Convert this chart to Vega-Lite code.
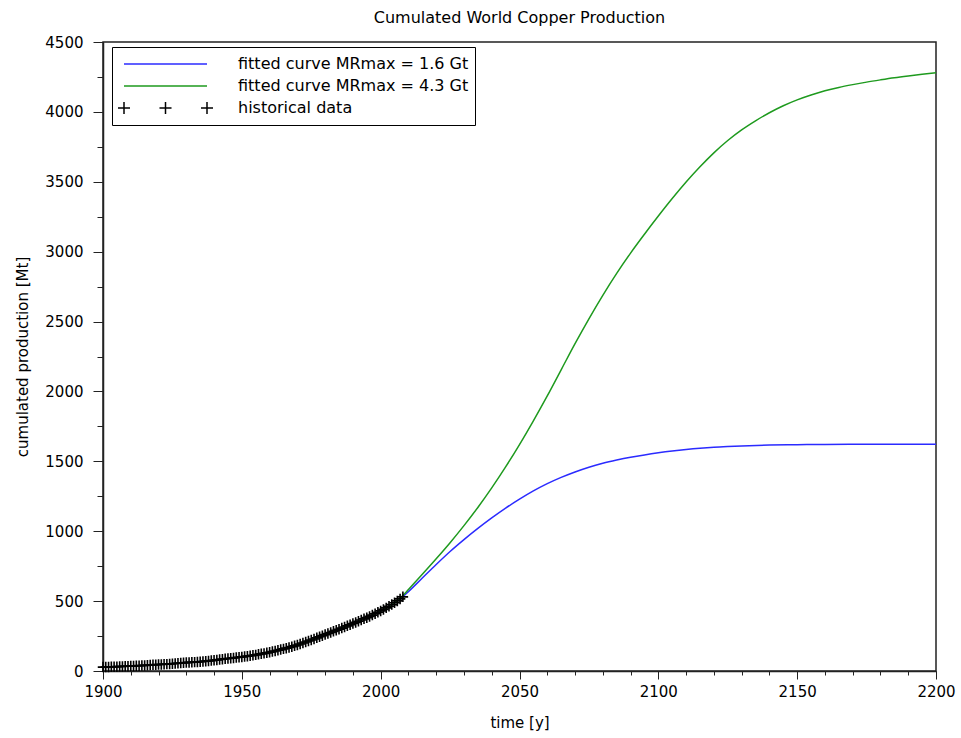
{
  "$schema": "https://vega.github.io/schema/vega-lite/v6.json",
  "autosize": {"type": "none"},
  "padding": {"left": 103, "top": 42, "right": 25, "bottom": 67},
  "width": 833,
  "height": 629,
  "background": "white",
  "title": {"text": "Cumulated World Copper Production", "fontSize": 16, "font": "DejaVu Sans", "fontWeight": "normal", "color": "#000", "offset": 9, "anchor": "middle"},
  "datasets": {
    "hist": [
      {"year": 1900, "value": 28}, {"year": 1901, "value": 28.6}, {"year": 1902, "value": 29.2}, {"year": 1903, "value": 29.8}, {"year": 1904, "value": 30.5},
      {"year": 1905, "value": 31.2}, {"year": 1906, "value": 31.9}, {"year": 1907, "value": 32.7}, {"year": 1908, "value": 33.5}, {"year": 1909, "value": 34.3},
      {"year": 1910, "value": 35.2}, {"year": 1911, "value": 36.1}, {"year": 1912, "value": 37.1}, {"year": 1913, "value": 38.1}, {"year": 1914, "value": 39.0},
      {"year": 1915, "value": 40.1}, {"year": 1916, "value": 41.5}, {"year": 1917, "value": 42.9}, {"year": 1918, "value": 44.3}, {"year": 1919, "value": 45.3},
      {"year": 1920, "value": 46.3}, {"year": 1921, "value": 46.9}, {"year": 1922, "value": 47.9}, {"year": 1923, "value": 49.2}, {"year": 1924, "value": 50.6},
      {"year": 1925, "value": 52.0}, {"year": 1926, "value": 53.5}, {"year": 1927, "value": 55.0}, {"year": 1928, "value": 56.7}, {"year": 1929, "value": 58.6},
      {"year": 1930, "value": 60.2}, {"year": 1931, "value": 61.6}, {"year": 1932, "value": 62.5}, {"year": 1933, "value": 63.5}, {"year": 1934, "value": 64.8},
      {"year": 1935, "value": 66.3}, {"year": 1936, "value": 68.0}, {"year": 1937, "value": 70.3}, {"year": 1938, "value": 72.3}, {"year": 1939, "value": 74.5},
      {"year": 1940, "value": 76.9}, {"year": 1941, "value": 79.5}, {"year": 1942, "value": 82.1}, {"year": 1943, "value": 84.8}, {"year": 1944, "value": 87.4},
      {"year": 1945, "value": 89.5}, {"year": 1946, "value": 91.5}, {"year": 1947, "value": 93.8}, {"year": 1948, "value": 96.1}, {"year": 1949, "value": 98.4},
      {"year": 1950, "value": 100.9}, {"year": 1951, "value": 103.5}, {"year": 1952, "value": 106.3}, {"year": 1953, "value": 109.1}, {"year": 1954, "value": 112.0},
      {"year": 1955, "value": 115.4}, {"year": 1956, "value": 119.0}, {"year": 1957, "value": 122.6}, {"year": 1958, "value": 126.1}, {"year": 1959, "value": 129.9},
      {"year": 1960, "value": 134.3}, {"year": 1961, "value": 138.8}, {"year": 1962, "value": 143.5}, {"year": 1963, "value": 148.2}, {"year": 1964, "value": 153.1},
      {"year": 1965, "value": 158.3}, {"year": 1966, "value": 163.6}, {"year": 1967, "value": 168.6}, {"year": 1968, "value": 174.1}, {"year": 1969, "value": 180.1},
      {"year": 1970, "value": 186.5}, {"year": 1971, "value": 192.8}, {"year": 1972, "value": 199.8}, {"year": 1973, "value": 207.2}, {"year": 1974, "value": 214.7},
      {"year": 1975, "value": 221.8}, {"year": 1976, "value": 229.4}, {"year": 1977, "value": 237.2}, {"year": 1978, "value": 245.0}, {"year": 1979, "value": 252.8},
      {"year": 1980, "value": 260.4}, {"year": 1981, "value": 268.2}, {"year": 1982, "value": 275.9}, {"year": 1983, "value": 283.6}, {"year": 1984, "value": 291.3},
      {"year": 1985, "value": 299.1}, {"year": 1986, "value": 306.9}, {"year": 1987, "value": 314.8}, {"year": 1988, "value": 322.9}, {"year": 1989, "value": 331.2},
      {"year": 1990, "value": 339.5}, {"year": 1991, "value": 347.8}, {"year": 1992, "value": 356.1}, {"year": 1993, "value": 364.5}, {"year": 1994, "value": 373.0},
      {"year": 1995, "value": 381.7}, {"year": 1996, "value": 390.7}, {"year": 1997, "value": 400.0}, {"year": 1998, "value": 409.7}, {"year": 1999, "value": 419.8},
      {"year": 2000, "value": 430.1}, {"year": 2001, "value": 440.8}, {"year": 2002, "value": 451.6}, {"year": 2003, "value": 463.1}, {"year": 2004, "value": 475.2},
      {"year": 2005, "value": 488.0}, {"year": 2006, "value": 501.5}, {"year": 2007, "value": 515.8}, {"year": 2008, "value": 530.5}
    ],
    "blue": [
      {"year": 1900, "value": 28}, {"year": 1910, "value": 35}, {"year": 1920, "value": 46}, {"year": 1930, "value": 60}, {"year": 1940, "value": 77},
      {"year": 1950, "value": 101}, {"year": 1960, "value": 134}, {"year": 1970, "value": 187}, {"year": 1980, "value": 260}, {"year": 1990, "value": 340},
      {"year": 2000, "value": 430}, {"year": 2005, "value": 488}, {"year": 2008, "value": 531}, {"year": 2010, "value": 568}, {"year": 2015, "value": 665},
      {"year": 2020, "value": 762}, {"year": 2025, "value": 855}, {"year": 2030, "value": 940}, {"year": 2035, "value": 1020}, {"year": 2040, "value": 1095},
      {"year": 2045, "value": 1165}, {"year": 2050, "value": 1229}, {"year": 2055, "value": 1288}, {"year": 2060, "value": 1340}, {"year": 2065, "value": 1385},
      {"year": 2070, "value": 1424}, {"year": 2075, "value": 1458}, {"year": 2080, "value": 1486}, {"year": 2085, "value": 1509}, {"year": 2090, "value": 1529},
      {"year": 2095, "value": 1546}, {"year": 2100, "value": 1561}, {"year": 2105, "value": 1574}, {"year": 2110, "value": 1585}, {"year": 2115, "value": 1594},
      {"year": 2120, "value": 1601}, {"year": 2125, "value": 1606}, {"year": 2130, "value": 1610}, {"year": 2140, "value": 1616}, {"year": 2150, "value": 1619},
      {"year": 2160, "value": 1621}, {"year": 2180, "value": 1622}, {"year": 2200, "value": 1622}
    ],
    "green": [
      {"year": 1900, "value": 28}, {"year": 1910, "value": 35}, {"year": 1920, "value": 46}, {"year": 1930, "value": 60}, {"year": 1940, "value": 77},
      {"year": 1950, "value": 101}, {"year": 1960, "value": 134}, {"year": 1970, "value": 187}, {"year": 1980, "value": 260}, {"year": 1990, "value": 340},
      {"year": 2000, "value": 430}, {"year": 2005, "value": 488}, {"year": 2008, "value": 540}, {"year": 2010, "value": 583}, {"year": 2015, "value": 692},
      {"year": 2020, "value": 803}, {"year": 2025, "value": 918}, {"year": 2030, "value": 1040}, {"year": 2035, "value": 1170}, {"year": 2040, "value": 1310},
      {"year": 2045, "value": 1460}, {"year": 2050, "value": 1620}, {"year": 2055, "value": 1790}, {"year": 2060, "value": 1968}, {"year": 2065, "value": 2155},
      {"year": 2070, "value": 2342}, {"year": 2075, "value": 2520}, {"year": 2080, "value": 2688}, {"year": 2085, "value": 2845}, {"year": 2090, "value": 2990},
      {"year": 2095, "value": 3125}, {"year": 2100, "value": 3255}, {"year": 2105, "value": 3380}, {"year": 2110, "value": 3498}, {"year": 2115, "value": 3607},
      {"year": 2120, "value": 3707}, {"year": 2125, "value": 3795}, {"year": 2130, "value": 3871}, {"year": 2135, "value": 3936}, {"year": 2140, "value": 3994},
      {"year": 2145, "value": 4044}, {"year": 2150, "value": 4086}, {"year": 2155, "value": 4121}, {"year": 2160, "value": 4151}, {"year": 2165, "value": 4175},
      {"year": 2170, "value": 4195}, {"year": 2175, "value": 4213}, {"year": 2180, "value": 4229}, {"year": 2185, "value": 4244}, {"year": 2190, "value": 4257},
      {"year": 2195, "value": 4269}, {"year": 2200, "value": 4280}
    ]
  },
  "layer": [
    {
      "data": {"name": "blue"},
      "transform": [{"calculate": "'fitted curve MRmax = 1.6 Gt'", "as": "series"}],
      "mark": {"type": "line", "strokeWidth": 1.5, "clip": true, "interpolate": "monotone"},
      "encoding": {
        "x": {"field": "year", "type": "quantitative", "scale": {"domain": [1900, 2200], "nice": false, "zero": false},
              "axis": {"orient": "bottom", "values": [1900, 1950, 2000, 2050, 2100, 2150, 2200], "format": "d", "tickSize": 8, "labelPadding": 5, "title": "time [y]", "titlePadding": 16, "grid": false, "labelFlush": false}},
        "y": {"field": "value", "type": "quantitative", "scale": {"domain": [0, 4500], "nice": false},
              "axis": {"orient": "left", "values": [0, 500, 1000, 1500, 2000, 2500, 3000, 3500, 4000, 4500], "format": "d", "tickSize": 10, "labelPadding": 10, "title": "cumulated production [Mt]", "titlePadding": 14, "grid": false, "labelFlush": false}},
        "color": {"field": "series", "type": "nominal", "title": null,
                  "scale": {"domain": ["fitted curve MRmax = 1.6 Gt", "fitted curve MRmax = 4.3 Gt", "historical data"], "range": ["#2b2bff", "#1e9a1e", "#000000"]},
                  "legend": {"encode": {"symbols": {"update": {"shape": {"signal": "datum.value === 'historical data' ? 'M-1.145,0H-0.855M-1,-0.145V0.145M-0.145,0H0.145M0,-0.145V0.145M0.855,0H1.145M1,-0.145V0.145' : 'stroke'"}, "fill": {"value": "transparent"}}}}}}
      }
    },
    {
      "data": {"name": "green"},
      "transform": [{"calculate": "'fitted curve MRmax = 4.3 Gt'", "as": "series"}],
      "mark": {"type": "line", "strokeWidth": 1.5, "clip": true, "interpolate": "monotone"},
      "encoding": {
        "x": {"field": "year", "type": "quantitative", "axis": null},
        "y": {"field": "value", "type": "quantitative", "axis": null},
        "color": {"field": "series", "type": "nominal", "title": null,
                  "legend": {"encode": {"symbols": {"update": {"shape": {"signal": "datum.value === 'historical data' ? 'M-1.145,0H-0.855M-1,-0.145V0.145M-0.145,0H0.145M0,-0.145V0.145M0.855,0H1.145M1,-0.145V0.145' : 'stroke'"}, "fill": {"value": "transparent"}}}}}}
      }
    },
    {
      "data": {"name": "hist"},
      "transform": [{"calculate": "'historical data'", "as": "series"}],
      "mark": {"type": "point", "shape": "M-1,0H1M0,-1V1", "size": 110, "filled": false, "strokeWidth": 1.6, "opacity": 1},
      "encoding": {
        "x": {"field": "year", "type": "quantitative",
              "axis": {"orient": "bottom", "values": [1900, 1910, 1920, 1930, 1940, 1950, 1960, 1970, 1980, 1990, 2000, 2010, 2020, 2030, 2040, 2050, 2060, 2070, 2080, 2090, 2100, 2110, 2120, 2130, 2140, 2150, 2160, 2170, 2180, 2190, 2200], "labels": false, "tickSize": 4, "title": null, "grid": false, "domain": false}},
        "y": {"field": "value", "type": "quantitative",
              "axis": {"orient": "left", "values": [0, 250, 500, 750, 1000, 1250, 1500, 1750, 2000, 2250, 2500, 2750, 3000, 3250, 3500, 3750, 4000, 4250, 4500], "labels": false, "tickSize": 6, "title": null, "grid": false, "domain": false}},
        "color": {"field": "series", "type": "nominal", "title": null,
                  "legend": {"encode": {"symbols": {"update": {"shape": {"signal": "datum.value === 'historical data' ? 'M-1.145,0H-0.855M-1,-0.145V0.145M-0.145,0H0.145M0,-0.145V0.145M0.855,0H1.145M1,-0.145V0.145' : 'stroke'"}, "fill": {"value": "transparent"}}}}}}
      }
    }
  ],
  "resolve": {"axis": {"x": "independent", "y": "independent"}},
  "config": {
    "view": {"stroke": "#222", "strokeWidth": 1.5},
    "axis": {"labelFont": "DejaVu Sans", "labelFontSize": 15, "labelColor": "#000", "titleFont": "DejaVu Sans", "titleFontSize": 15, "titleFontWeight": "normal", "titleColor": "#000", "domainColor": "#222", "domainWidth": 1.5, "tickColor": "#222", "tickWidth": 1},
    "legend": {"orient": "none", "legendX": 9, "legendY": 5, "padding": 6, "strokeColor": "#000", "fillColor": "white", "symbolType": "stroke", "symbolSize": 6889, "symbolStrokeWidth": 1.5, "symbolOffset": 5, "labelOffset": 30, "labelFont": "DejaVu Sans", "labelFontSize": 16, "labelColor": "#000", "clipHeight": 22, "rowPadding": 0, "labelLimit": 400}
  }
}
